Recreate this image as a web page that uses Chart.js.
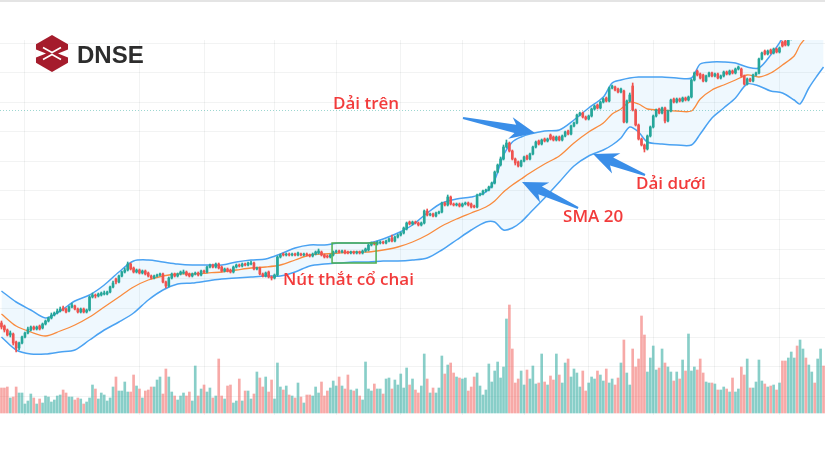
<!DOCTYPE html>
<html>
<head>
<meta charset="utf-8">
<script src="https://cdn.jsdelivr.net/npm/chart.js@4.4.1/dist/chart.umd.min.js"></script>
<style>
  html, body { margin: 0; padding: 0; background: #fff; }
  canvas { display: block; }
</style>
</head>
<body>
<canvas id="bbChart" width="825" height="450"></canvas>
<script>
// daily candles (price, thousand VND), oldest first
var opens = [
  13.2,12.9,12.5,12.0,12.1,11.3,10.7,11.2,11.8,12.2,
  12.5,12.8,12.6,12.9,12.7,13.1,13.4,13.7,14.0,14.2,
  14.4,14.7,14.6,14.4,14.8,14.9,14.6,14.3,14.6,14.3,
  14.5,15.8,16.0,15.9,16.0,16.1,16.1,16.3,16.8,17.6,
  17.3,17.9,18.3,18.5,19.1,18.7,18.3,18.5,18.2,18.4,
  18.2,17.9,17.7,17.9,18.0,18.1,17.3,16.9,17.7,18.1,
  17.9,18.1,18.2,18.3,18.1,17.9,18.1,18.2,18.0,18.4,
  18.3,18.8,19.0,18.8,19.1,18.8,18.4,18.6,18.5,18.3,
  18.8,19.0,18.9,19.1,19.0,19.1,19.2,18.6,18.7,18.1,
  17.9,18.3,17.8,17.7,18.0,19.8,20.1,20.0,20.1,20.0,
  20.1,20.0,20.1,20.0,20.1,20.0,19.9,20.1,20.2,20.3,
  20.0,19.9,19.8,20.0,20.3,20.4,20.3,20.4,20.3,20.2,
  20.3,20.2,20.3,20.2,20.4,20.5,21.0,21.2,21.1,21.2,
  21.3,21.2,21.4,21.7,21.4,21.8,22.0,22.2,22.6,23.3,
  23.1,23.3,23.2,23.0,23.2,24.4,24.0,24.1,23.9,24.2,
  24.3,25.2,25.0,25.8,25.1,25.0,25.1,24.9,25.1,25.2,
  25.1,24.9,24.8,26.0,26.1,26.4,26.5,26.8,27.2,28.3,
  29.0,29.6,30.8,31.2,30.4,29.6,29.3,28.9,29.4,29.9,
  29.6,30.1,30.8,31.4,31.1,31.6,31.4,32.0,31.8,31.5,
  31.8,31.5,31.9,32.4,32.1,32.9,33.2,34.0,34.2,33.8,
  33.6,33.9,34.6,35.0,34.7,35.3,35.7,35.4,36.7,36.8,
  36.6,36.3,36.4,33.3,35.4,36.9,34.5,33.0,31.6,31.0,
  30.6,31.9,32.8,33.9,34.6,34.2,34.7,33.4,34.4,35.6,
  35.3,35.6,35.4,35.7,35.5,35.8,37.5,38.4,38.1,38.0,
  37.4,37.9,38.2,37.9,38.1,37.7,37.9,38.3,38.1,38.4,
  38.2,38.6,38.6,37.9,37.1,37.6,37.4,38.0,38.2,39.6,
  40.4,40.1,40.5,40.2,40.6,40.3,41.3,41.4,41.0,41.6,
  42.2,42.9,42.5,43.2,43.8,43.5,44.1,44.6,44.3,44.8,
  45.3
];
var highs = [
  13.4,13.0,12.6,12.4,12.2,11.4,11.3,11.9,12.3,12.8,
  12.9,12.9,12.9,13.0,13.2,13.5,13.8,14.2,14.3,14.6,
  14.8,14.9,14.7,14.9,15.2,15.0,14.7,14.7,14.7,14.6,
  15.9,16.2,16.1,16.2,16.3,16.4,16.4,16.9,17.4,17.7,
  18.0,18.4,18.7,19.3,19.2,18.8,18.6,18.6,18.5,18.5,
  18.3,18.0,18.0,18.1,18.2,18.2,17.4,17.8,18.2,18.2,
  18.2,18.4,18.5,18.4,18.2,18.2,18.3,18.3,18.5,18.5,
  18.9,19.1,19.1,19.2,19.2,18.9,18.7,18.7,18.6,18.9,
  19.1,19.1,19.2,19.2,19.3,19.4,19.3,18.8,18.8,18.2,
  18.3,18.4,17.9,18.1,19.9,20.1,20.2,20.2,20.2,20.2,
  20.2,20.3,20.2,20.2,20.2,20.1,20.2,20.4,20.6,20.4,
  20.1,20.0,20.1,20.4,20.5,20.5,20.5,20.5,20.4,20.4,
  20.4,20.4,20.4,20.5,20.7,21.1,21.3,21.3,21.4,21.4,
  21.4,21.5,21.7,22.0,21.9,22.1,22.3,22.8,23.3,23.4,
  23.4,23.4,23.3,23.3,24.5,24.6,24.2,24.2,24.3,24.4,
  25.3,25.3,26.0,25.9,25.2,25.2,25.2,25.2,25.3,25.3,
  25.2,25.0,26.1,26.2,26.5,26.6,26.9,27.3,28.4,29.1,
  29.8,31.0,31.5,31.3,30.5,29.7,29.4,29.5,29.9,30.0,
  30.2,30.9,31.4,31.5,31.6,31.7,31.7,32.1,31.9,31.9,
  31.9,32.0,32.4,32.5,33.0,33.3,34.1,34.3,34.3,33.9,
  34.0,34.7,35.0,35.1,35.4,35.7,35.8,36.8,37.0,36.9,
  36.7,36.7,36.5,35.5,36.2,37.2,34.6,33.1,31.7,31.1,
  32.0,32.9,34.0,34.6,34.7,34.8,34.8,34.5,35.6,35.7,
  35.7,35.7,35.8,35.8,35.9,37.6,38.3,38.5,38.2,38.1,
  38.0,38.3,38.3,38.2,38.2,38.0,38.4,38.4,38.5,38.5,
  38.7,38.9,38.7,38.0,37.7,37.7,38.1,38.3,39.7,40.3,
  40.5,40.5,40.6,40.7,40.7,40.8,41.4,41.5,41.7,42.3,
  42.9,43.0,43.3,43.9,43.9,44.2,44.7,44.7,44.9,45.4,
  45.4
];
var lows = [
  12.6,12.3,11.9,11.8,11.0,10.3,10.5,11.1,11.7,12.1,
  12.4,12.5,12.5,12.5,12.6,13.0,13.3,13.6,13.9,14.1,
  14.3,14.4,14.2,14.3,14.7,14.5,14.2,14.2,14.2,14.2,
  14.4,15.7,15.7,15.8,15.9,16.0,16.0,16.2,16.7,17.1,
  17.2,17.8,18.2,18.4,18.5,18.2,18.2,18.1,18.1,18.0,
  17.8,17.6,17.6,17.8,17.9,17.2,16.7,16.8,17.6,17.8,
  17.8,18.0,18.1,17.9,17.8,17.8,18.0,17.9,17.9,18.2,
  18.2,18.7,18.7,18.7,18.6,18.3,18.3,18.3,18.2,18.2,
  18.7,18.8,18.8,18.9,18.9,19.0,18.5,18.5,18.0,17.8,
  17.8,17.7,17.5,17.6,17.9,19.7,19.9,19.9,19.9,19.9,
  19.9,19.9,19.9,19.9,19.9,19.8,19.8,20.0,20.1,19.9,
  19.7,19.7,19.7,19.9,20.2,20.2,20.2,20.1,20.1,20.1,
  20.1,20.1,20.1,20.1,20.3,20.4,20.9,21.0,21.0,21.1,
  21.1,21.1,21.3,21.3,21.3,21.7,21.9,22.1,22.5,23.0,
  23.0,23.1,22.9,22.9,23.1,23.9,23.9,23.8,23.8,24.1,
  24.2,24.9,24.9,25.0,24.9,24.9,24.8,24.8,25.0,24.9,
  24.7,24.7,24.7,25.9,26.0,26.3,26.4,26.7,27.1,28.2,
  28.9,29.5,30.7,30.3,29.5,29.0,28.8,28.8,29.3,29.5,
  29.5,30.0,30.7,31.0,31.0,31.3,31.3,31.5,31.4,31.4,
  31.4,31.4,31.8,32.0,32.0,32.8,33.1,33.9,33.7,33.5,
  33.5,33.8,34.5,34.6,34.6,35.2,35.3,35.3,36.6,36.4,
  36.2,36.2,33.2,33.2,35.3,34.4,32.9,31.5,30.9,30.3,
  30.5,31.8,32.7,33.8,34.1,34.1,33.2,33.3,34.3,35.2,
  35.2,35.3,35.3,35.4,35.4,35.7,37.4,37.9,37.6,37.3,
  37.3,37.8,37.8,37.8,37.6,37.6,37.8,38.0,38.0,38.1,
  38.1,38.5,37.8,37.0,37.0,37.3,37.3,37.9,38.1,39.5,
  40.0,40.0,40.1,40.1,40.2,40.2,40.8,40.9,40.9,41.5,
  42.1,42.4,42.4,43.1,43.4,43.4,44.0,44.2,44.2,44.7,
  44.9
];
var closes = [
  12.8,12.5,12.0,12.2,11.2,10.7,11.2,11.8,12.2,12.6,
  12.8,12.6,12.8,12.6,13.1,13.4,13.7,14.0,14.2,14.4,
  14.6,14.5,14.3,14.8,15.0,14.6,14.3,14.6,14.3,14.5,
  15.8,16.0,15.9,16.1,16.2,16.2,16.3,16.8,17.2,17.3,
  17.9,18.3,18.5,19.1,18.6,18.3,18.5,18.2,18.4,18.1,
  17.9,17.7,17.9,18.0,18.1,17.3,16.9,17.7,18.1,17.9,
  18.1,18.3,18.3,18.0,17.9,18.1,18.2,18.0,18.4,18.3,
  18.8,19.0,18.8,19.1,18.7,18.4,18.6,18.4,18.3,18.8,
  19.0,18.9,19.1,19.0,19.2,19.2,18.6,18.7,18.1,17.9,
  18.2,17.8,17.7,18.0,19.8,20.0,20.0,20.1,20.0,20.1,
  20.0,20.2,20.0,20.1,20.0,19.9,20.1,20.3,20.4,20.0,
  19.8,19.8,20.0,20.3,20.4,20.3,20.4,20.2,20.2,20.3,
  20.2,20.3,20.2,20.4,20.6,21.0,21.2,21.1,21.3,21.3,
  21.2,21.4,21.6,21.4,21.8,22.0,22.2,22.7,23.2,23.1,
  23.3,23.2,23.0,23.2,24.4,24.0,24.1,23.9,24.2,24.3,
  25.2,25.0,25.8,25.1,25.0,25.1,24.9,25.1,25.2,25.0,
  24.8,24.8,26.0,26.1,26.4,26.5,26.8,27.2,28.3,29.0,
  29.6,30.8,31.2,30.4,29.6,29.2,28.9,29.4,29.8,29.6,
  30.1,30.8,31.3,31.1,31.5,31.4,31.6,31.6,31.5,31.8,
  31.5,31.9,32.3,32.1,32.9,33.2,34.0,34.2,33.8,33.6,
  33.9,34.6,34.9,34.7,35.3,35.6,35.4,36.7,36.9,36.5,
  36.3,36.6,33.3,35.4,36.0,34.5,33.0,31.6,31.0,30.6,
  31.9,32.8,33.9,34.5,34.2,34.7,33.4,34.4,35.5,35.3,
  35.6,35.4,35.7,35.5,35.8,37.5,38.2,38.0,37.7,37.4,
  37.9,38.2,37.9,38.1,37.7,37.9,38.3,38.1,38.4,38.2,
  38.6,38.8,37.9,37.1,37.6,37.4,38.0,38.2,39.6,40.2,
  40.1,40.4,40.2,40.6,40.3,40.7,40.9,41.0,41.6,42.2,
  42.8,42.5,43.2,43.8,43.5,44.1,44.6,44.3,44.8,45.3,
  45.0
];
// traded volume per session (x10k shares)
var volumes = [
  25,25,26,15,16,26,20,20,9,12,
  19,15,9,14,10,17,16,11,13,17,
  18,23,20,16,16,13,15,14,9,11,
  15,28,24,14,20,18,12,15,26,36,
  22,22,31,21,21,38,27,24,15,22,
  23,26,26,33,36,19,44,36,21,17,
  13,17,20,17,21,12,47,17,24,28,
  21,25,15,17,54,17,14,27,28,10,
  12,34,12,22,22,14,19,41,35,26,
  36,21,33,14,50,
  26,23,27,18,17,15,30,16,10,18,
  18,17,26,20,31,17,22,25,32,27,
  36,27,24,38,23,22,24,17,13,51,
  24,22,29,24,24,19,34,35,24,33,
  28,39,25,45,28,34,23,20,27,59,
  34,20,25,20,25,57,39,48,50,40,
  36,35,34,35,22,26,36,40,27,18,
  23,49,31,42,51,35,46,94,108,64,
  30,34,42,28,43,34,47,29,30,59,
  31,28,37,33,59,
  38,30,50,54,36,44,40,26,42,22,
  30,36,34,42,38,32,44,30,34,28,
  35,50,73,40,28,64,46,54,97,78,
  41,55,67,43,45,64,50,46,41,32,
  41,34,53,42,79,42,46,43,54,40,
  31,30,30,29,23,23,26,24,21,35,
  21,24,46,38,54,25,25,31,53,32,
  29,26,27,28,23,30,52,52,55,61,
  55,67,73,64,55,48,41,30,54,64,
  47
];
// Bollinger Bands (20, 2) read at these sessions
var bandDays = [0,5,10,15,20,25,30,35,40,45,50,55,60,65,70,75,80,85,90,95,
  100,105,110,115,120,125,130,135,140,145,150,155,160,165,168,171,174,177,180,185,
  190,195,200,205,208,211,214,217,220,225,230,235,238,242,246,250,254,258,262,266,
  270,272,275,278,280];
var upperBand = [16.4,15.3,14.5,13.7,14.4,15.4,16.0,17.0,18.3,19.4,19.5,19.3,19.1,19.0,19.0,19.0,19.3,19.5,19.6,20.1,
  20.7,21.0,21.0,21.2,21.2,21.2,21.6,22.2,23.0,24.2,25.2,25.6,25.8,26.3,27.5,30.0,31.3,31.8,32.1,32.4,
  32.5,33.5,34.7,35.8,37.2,37.5,37.7,37.8,37.8,37.8,37.7,37.7,39.1,39.3,39.3,39.2,38.8,38.7,40.0,41.7,
  44.3,46.9,47.5,48.5,49.5];
var smaBand = [14.1,12.9,12.3,11.9,12.4,13.0,13.8,14.8,15.8,16.8,17.5,17.9,18.1,18.1,18.2,18.3,18.5,18.7,18.8,19.0,
  19.5,20.0,20.1,20.2,20.3,20.3,20.5,20.8,21.3,22.0,22.9,23.6,24.2,24.8,25.4,26.3,27.0,27.6,28.2,29.1,
  29.9,31.2,32.3,33.2,34.1,34.6,35.3,35.1,34.6,34.5,34.4,34.4,35.6,36.5,37.0,37.5,38.0,37.8,38.2,39.0,
  39.9,41.0,42.1,43.3,44.2];
var lowerBand = [11.8,10.5,10.1,10.1,10.3,10.5,11.5,12.5,13.3,14.2,15.5,16.5,17.1,17.2,17.4,17.6,17.7,17.8,17.9,17.9,
  18.3,18.9,19.1,19.2,19.3,19.3,19.4,19.4,19.5,19.7,20.5,21.5,22.5,23.3,23.3,22.5,22.7,23.3,24.2,25.7,
  27.3,28.9,29.9,30.5,31.0,31.7,32.8,32.3,31.3,31.1,31.0,31.0,32.1,33.7,34.7,35.7,37.1,36.9,36.4,36.2,
  35.5,35.1,36.7,38.0,38.8];
// first session of each month (vertical grid)
var monthStarts = [8, 47, 69, 93, 114, 136, 157, 178, 200, 222, 243, 265];
var lastPrice = 34.5;

// notes drawn on the chart, anchored to [session, price]
var noteTexts = ['Dải trên', 'Nút thắt cổ chai', 'SMA 20', 'Dải dưới'];
var noteAt = [[112.9, 34.6], [95.9, 17.0], [191.3, 23.3], [216.1, 26.6]];
var arrowFrom = [[157.2, 33.7], [219.2, 28.0], [196.4, 24.7]];
var arrowTo = [[181.7, 32.2], [201.5, 30.1], [177.3, 27.3]];
var squeezeBox = [112.6, 127.6, 19.2, 21.2];

var UP = '#26a69a', DOWN = '#ef5350';
var GRID = 'rgba(42,46,57,0.06)';

function isUp(i) { return closes[i] >= opens[i]; }

var bodies = opens.map(function(o, i) { return { x: i, y: [o, closes[i]] }; });
var wicks = lows.map(function(l, i) { return { x: i, y: [l, highs[i]] }; });
var vols = volumes.map(function(v, i) { return { x: i, y: v }; });
function band(arr) { return bandDays.map(function(d, k) { return { x: d, y: arr[k] }; }); }

function drawArrow(ctx, x1, y1, x2, y2) {
  var dx = x2 - x1, dy = y2 - y1, len = Math.sqrt(dx * dx + dy * dy);
  var ux = dx / len, uy = dy / len, px = -uy, py = ux;
  var headLen = 20, headW = 11, neckW = 4.2, tailW = 1;
  var nx = x2 - ux * headLen, ny = y2 - uy * headLen;
  var bx = x2 - ux * (headLen + 5), by = y2 - uy * (headLen + 5);
  ctx.beginPath();
  ctx.moveTo(x1 + px * tailW, y1 + py * tailW);
  ctx.lineTo(nx + px * neckW, ny + py * neckW);
  ctx.lineTo(bx + px * headW, by + py * headW);
  ctx.lineTo(x2, y2);
  ctx.lineTo(bx - px * headW, by - py * headW);
  ctx.lineTo(nx - px * neckW, ny - py * neckW);
  ctx.lineTo(x1 - px * tailW, y1 - py * tailW);
  ctx.closePath();
  ctx.fill();
}

function drawLogo(ctx) {
  var cx = 52, cy = 53.5, r = 18.5;
  var w = r * 0.866;
  ctx.fillStyle = '#a51c2c';
  ctx.beginPath();
  for (var k = 0; k < 6; k++) {
    var a = Math.PI / 180 * (60 * k - 90);
    ctx.lineTo(cx + r * Math.cos(a), cy + r * Math.sin(a));
  }
  ctx.closePath();
  ctx.fill();
  // white bow-tie cut
  ctx.fillStyle = '#fff';
  ctx.beginPath();
  ctx.moveTo(cx - w, cy - 4); ctx.lineTo(cx - 6, cy); ctx.lineTo(cx - w, cy + 4); ctx.closePath(); ctx.fill();
  ctx.beginPath();
  ctx.moveTo(cx + w, cy - 4); ctx.lineTo(cx + 6, cy); ctx.lineTo(cx + w, cy + 4); ctx.closePath(); ctx.fill();
  ctx.strokeStyle = '#fff';
  ctx.lineWidth = 1.6;
  ctx.beginPath();
  ctx.moveTo(cx - 9, cy - 6); ctx.lineTo(cx, cy - 1); ctx.lineTo(cx + 9, cy - 6);
  ctx.moveTo(cx - 9, cy + 6); ctx.lineTo(cx, cy + 1); ctx.lineTo(cx + 9, cy + 6);
  ctx.stroke();
  ctx.fillStyle = '#2d2d2d';
  ctx.font = 'bold 24px "Liberation Sans", Arial, sans-serif';
  ctx.textBaseline = 'alphabetic';
  ctx.fillText('DNSE', 77, 63);
}

var notesPlugin = {
  id: 'notes',
  beforeDraw: function(chart) {
    var ctx = chart.ctx;
    ctx.save();
    ctx.fillStyle = '#e4e4e4';
    ctx.fillRect(0, 0, chart.width, 2);
    ctx.restore();
  },
  afterDatasetsDraw: function(chart) {
    var ctx = chart.ctx, xs = chart.scales.x, ys = chart.scales.y, area = chart.chartArea;
    ctx.save();
    // last price line
    var py = Math.round(ys.getPixelForValue(lastPrice)) + 0.5;
    ctx.strokeStyle = 'rgba(38,166,154,0.45)';
    ctx.lineWidth = 1;
    ctx.setLineDash([1, 2]);
    ctx.beginPath(); ctx.moveTo(area.left, py); ctx.lineTo(area.right, py); ctx.stroke();
    ctx.setLineDash([]);
    // squeeze box
    var bx1 = xs.getPixelForValue(squeezeBox[0]), bx2 = xs.getPixelForValue(squeezeBox[1]);
    var by1 = ys.getPixelForValue(squeezeBox[3]), by2 = ys.getPixelForValue(squeezeBox[2]);
    ctx.strokeStyle = '#4caf50';
    ctx.lineWidth = 1.5;
    ctx.strokeRect(bx1, by1, bx2 - bx1, by2 - by1);
    // arrows
    ctx.fillStyle = '#3a8ee8';
    arrowFrom.forEach(function(f, k) {
      drawArrow(ctx, xs.getPixelForValue(f[0]), ys.getPixelForValue(f[1]),
        xs.getPixelForValue(arrowTo[k][0]), ys.getPixelForValue(arrowTo[k][1]));
    });
    // labels
    ctx.fillStyle = '#f23b3b';
    ctx.font = '600 17px "Open Sans", sans-serif';
    ctx.textBaseline = 'alphabetic';
    noteTexts.forEach(function(t, k) {
      ctx.fillText(t, xs.getPixelForValue(noteAt[k][0]), ys.getPixelForValue(noteAt[k][1]));
    });
    drawLogo(ctx);
    ctx.restore();
  }
};

new Chart(document.getElementById('bbChart'), {
  type: 'bar',
  data: {
    datasets: [
      { type: 'bar', data: bodies, yAxisID: 'y', grouped: false, barThickness: 2, minBarLength: 1, order: 1,
        backgroundColor: function(c) { return isUp(c.dataIndex) ? UP : DOWN; } },
      { type: 'bar', data: wicks, yAxisID: 'y', grouped: false, barThickness: 1, order: 2,
        backgroundColor: function(c) { return isUp(c.dataIndex) ? UP : DOWN; } },
      { type: 'line', data: band(smaBand), yAxisID: 'y', borderColor: '#f98b3e', borderWidth: 1.3,
        tension: 0.3, pointRadius: 0, fill: false, order: 6 },
      { type: 'line', data: band(upperBand), yAxisID: 'y', borderColor: '#4aa2f2', borderWidth: 1.5,
        tension: 0.3, pointRadius: 0, fill: '+1', backgroundColor: 'rgba(33,150,243,0.07)', order: 8 },
      { type: 'line', data: band(lowerBand), yAxisID: 'y', borderColor: '#4aa2f2', borderWidth: 1.5,
        tension: 0.3, pointRadius: 0, fill: false, order: 7 },
      { type: 'bar', data: vols, yAxisID: 'yVol', grouped: false, barThickness: 2, order: 10,
        backgroundColor: function(c) { return isUp(c.dataIndex) ? 'rgba(38,166,154,0.55)' : 'rgba(239,83,80,0.5)'; } }
    ]
  },
  options: {
    responsive: false,
    animation: false,
    layout: { padding: { top: 40, bottom: 35, left: 0, right: 0 } },
    plugins: { legend: { display: false }, tooltip: { enabled: false } },
    scales: {
      x: {
        type: 'linear', min: -0.5, max: 280.5, offset: false,
        ticks: { display: false }, border: { display: false },
        grid: { color: GRID, drawTicks: false, offset: false },
        afterBuildTicks: function(s) { s.ticks = monthStarts.map(function(v) { return { value: v }; }); }
      },
      y: {
        min: 4, max: 41.5,
        ticks: { display: false, stepSize: 2.94, includeBounds: false },
        border: { display: false },
        grid: { color: GRID, drawTicks: false }
      },
      yVol: { display: false, position: 'right', min: -2, max: 373 }
    }
  },
  plugins: [notesPlugin]
});
</script>
</body>
</html>
